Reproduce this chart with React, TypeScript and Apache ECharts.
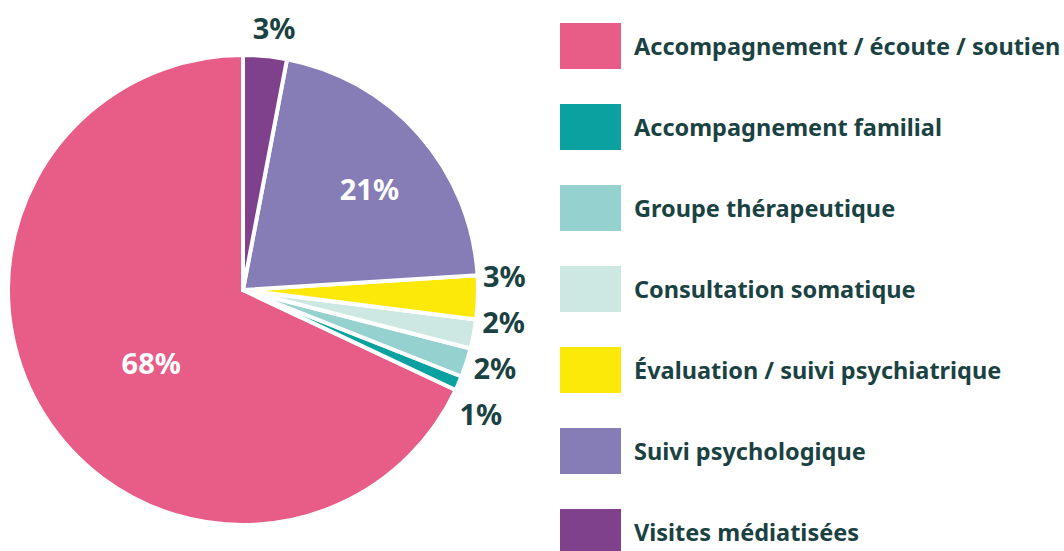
import React, { useEffect, useRef } from "react";
import * as echarts from "echarts";

const categories = [
  "Accompagnement / écoute / soutien",
  "Accompagnement familial",
  "Groupe thérapeutique",
  "Consultation somatique",
  "Évaluation / suivi psychiatrique",
  "Suivi psychologique",
  "Visites médiatisées",
];
const values = [68, 1, 2, 2, 3, 21, 3];
const colors = ["#E75D87", "#0AA1A0", "#94D1CF", "#CDE8E3", "#FCE90A", "#867DB6", "#7F418B"];
const insideSet = [true, false, false, false, false, true, false];
const labelShift: Record<number, number[]> = {
  0: [10, 8],
  1: [-6, -20],
  2: [0, -20],
  3: [4, -20],
  4: [3, -22],
  5: [36, -22],
  6: [-20, -2],
};
const lineLen: Record<number, number> = { 6: 27 };

const TEXT = "#1B4242";
const FONT = "'Noto Sans', sans-serif";

export default function App() {
  const ref = useRef<HTMLDivElement>(null);
  useEffect(() => {
    if (!ref.current) return;
    const chart = echarts.init(ref.current, undefined, { renderer: "svg" });
    const data = categories.map((name, i) => ({
      name,
      value: values[i],
      itemStyle: { color: colors[i] },
      label: insideSet[i]
        ? { position: "inside", color: "#fff", fontSize: 29, offset: labelShift[i] || [0, 0] }
        : {
            position: "outside",
            color: TEXT,
            fontSize: 29,
            lineHeight: 44,
            offset: labelShift[i] || [0, 0],
          },
      labelLine: { show: false, length: lineLen[i] ?? 2, length2: 0 },
    }));
    chart.setOption({
      animation: false,
      legend: {
        orient: "vertical",
        left: 558,
        top: 21,
        padding: 0,
        height: 800,
        icon: "rect",
        itemWidth: 63,
        itemHeight: 48,
        itemGap: 31,
        selectedMode: false,
        textStyle: {
          color: TEXT,
          fontFamily: FONT,
          fontWeight: "bold",
          fontSize: 23.5,
          padding: [0, 0, 0, 7],
        },
        data: categories,
      },
      series: [
        {
          type: "pie",
          center: [243, 290],
          radius: 235,
          startAngle: 90,
          clockwise: false,
          avoidLabelOverlap: true,
          itemStyle: { borderColor: "#fff", borderWidth: 4 },
          label: {
            show: true,
            formatter: "{c}%",
            fontFamily: FONT,
            fontWeight: "bold",
          },
          emphasis: { disabled: true },
          data,
        },
      ],
    });
    return () => chart.dispose();
  }, []);
  return (
    <div
      ref={ref}
      style={{ position: "absolute", left: 0, top: 0, width: 1064, height: 551 }}
    />
  );
}
